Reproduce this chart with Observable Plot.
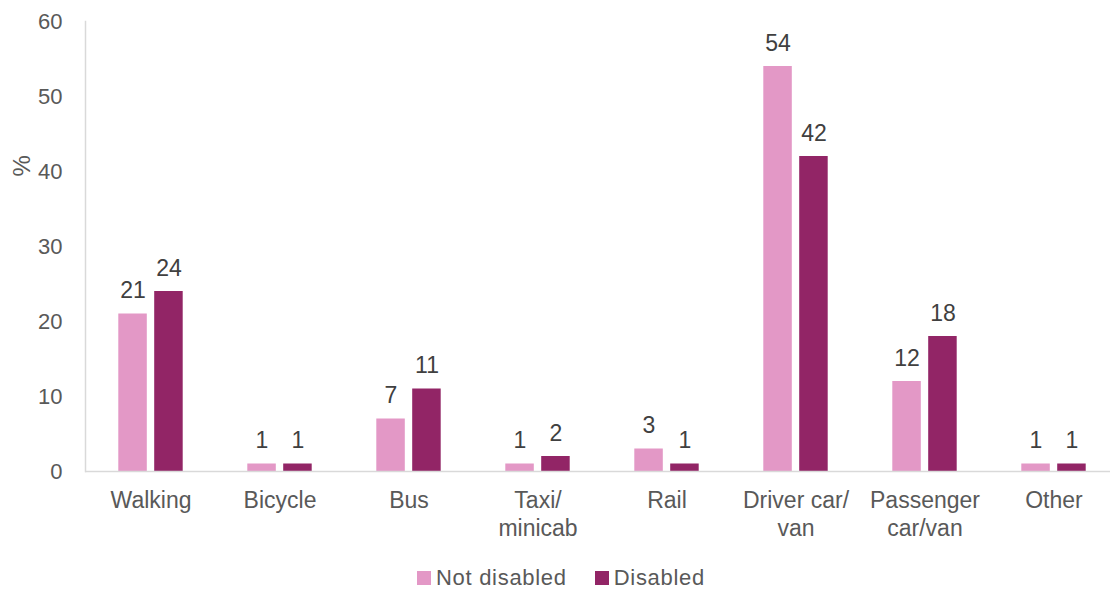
<!DOCTYPE html>
<html>
<head>
<meta charset="utf-8">
<script src="https://cdn.jsdelivr.net/npm/d3@7"></script>
<script src="https://cdn.jsdelivr.net/npm/@observablehq/plot@0.6"></script>
<style>
  body { margin: 0; background: #fff; font-family: "Liberation Sans", Arial, sans-serif; }
  #legend { display: flex; justify-content: center; align-items: center; gap: 28px; padding-left: 12px; height: 24px; font-size: 22px; letter-spacing: 0.7px; color: #595959; }
  #legend .item { display: flex; align-items: center; gap: 5px; }
  #legend .sw { width: 14px; height: 14px; display: inline-block; }
</style>
</head>
<body>
<div id="chart"></div>
<div id="legend"></div>
<script>
const categories = ["Walking", "Bicycle", "Bus", "Taxi/\nminicab", "Rail", "Driver car/\nvan", "Passenger\ncar/van", "Other"];
const notDisabled = [21, 1, 7, 1, 3, 54, 12, 1];
const disabled = [24, 1, 11, 2, 1, 42, 18, 1];
const seriesNames = ["Not disabled", "Disabled"];
const seriesColors = ["#e398c6", "#922566"];
const yTicks = [0, 10, 20, 30, 40, 50, 60];
const yLabel = "%";

const ndData = categories.map((c, i) => ({category: c, series: seriesNames[0], value: notDisabled[i]}));
const dData = categories.map((c, i) => ({category: c, series: seriesNames[1], value: disabled[i]}));

const textColor = "#404040";

const chart = Plot.plot({
  width: 1110,
  height: 566,
  marginLeft: 85,
  marginRight: 0,
  marginTop: 21,
  marginBottom: 95,
  style: {fontFamily: "Liberation Sans, Arial, sans-serif", color: "#595959", background: "#fff"},
  x: {domain: categories, range: [84.3, 1119.5], padding: 0, axis: null},
  y: {domain: [0, 60], axis: null},
  color: {domain: seriesNames, range: seriesColors},
  marks: [
    Plot.frame({anchor: "left", stroke: "#d9d9d9", strokeWidth: 1.5}),
    Plot.barY(ndData, {x: "category", y: "value", fill: "series", insetLeft: 32.3, insetRight: 68.2}),
    Plot.barY(dData, {x: "category", y: "value", fill: "series", insetLeft: 68.2, insetRight: 32.3}),
    Plot.ruleY([0], {stroke: "#d9d9d9", strokeWidth: 1.5}),
    Plot.text(ndData, {x: "category", y: "value", text: d => String(d.value), dx: -18, dy: -23, fontSize: 23, fill: textColor}),
    Plot.text(dData, {x: "category", y: "value", text: d => String(d.value), dx: 18, dy: -23, fontSize: 23, fill: textColor}),
    Plot.axisY({ticks: yTicks, tickSize: 0, tickPadding: 23, fontSize: 22, label: null}),
    Plot.axisX({tickSize: 0, tickPadding: 17, fontSize: 23, lineHeight: 1.22, letterSpacing: 0.8, label: null}),
    Plot.text([yLabel], {frameAnchor: "top-left", rotate: -90, dx: -73, dy: 155, fontSize: 24, fill: "#595959"})
  ]
});
document.getElementById("chart").appendChild(chart);

const legend = document.getElementById("legend");
seriesNames.forEach((name, i) => {
  const item = document.createElement("span");
  item.className = "item";
  const sw = document.createElement("span");
  sw.className = "sw";
  sw.style.background = seriesColors[i];
  const label = document.createElement("span");
  label.textContent = name;
  item.appendChild(sw);
  item.appendChild(label);
  legend.appendChild(item);
});
</script>
</body>
</html>
